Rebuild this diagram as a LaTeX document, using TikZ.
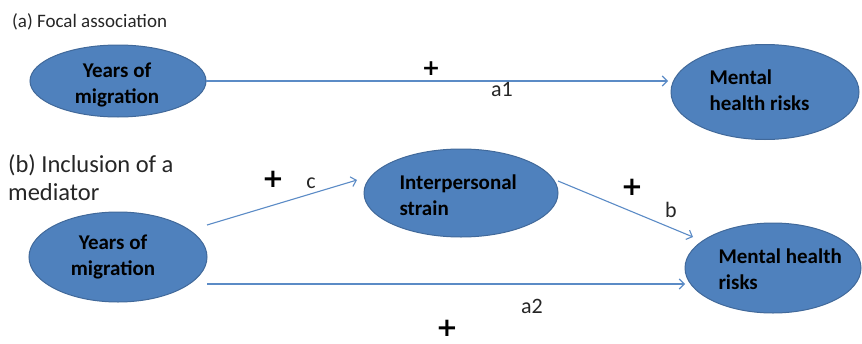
\documentclass[tikz,border=0pt]{standalone}
\usepackage{fontspec}
\setmainfont{Carlito}
\newfontfamily\plusfont{DejaVu Sans}
\usetikzlibrary{arrows.meta,shapes.geometric}
\definecolor{ellfill}{HTML}{4F81BD}
\definecolor{elldraw}{HTML}{41699A}
\definecolor{arrcol}{HTML}{5B8BC6}
\begin{document}
\begin{tikzpicture}[x=1pt,y=-1pt,
  ell/.style={ellipse,fill=ellfill,draw=elldraw,line width=1pt,inner sep=0pt},
  etext/.style={font=\fontsize{21}{26}\selectfont\bfseries,text=black,align=left,anchor=west},
  conn/.style={draw=arrcol,line width=1.1pt,-{Straight Barb[length=5pt,width=10pt]}},
  lbl/.style={font=\fontsize{22}{24}\selectfont,text=black!85},
  plus/.style={font=\plusfont\bfseries\fontsize{22}{22}\selectfont,text=black,inner sep=0pt},
  bigplus/.style={plus,font=\plusfont\bfseries\fontsize{26}{26}\selectfont},
  ttla/.style={font=\fontsize{19}{22}\selectfont,text=black!85,anchor=base west,inner sep=0pt},
  ttlb/.style={font=\fontsize{24.5}{28}\selectfont,text=black!85,anchor=base west,inner sep=0pt}
]
\useasboundingbox (0,0) rectangle (862,343);
% part (a)
\node[ttla] (ta) at (12,27) {(a) Focal association};
\node[ell,minimum width=176pt,minimum height=72pt] (y1) at (118,81) {};
\node[etext,align=center,anchor=center] (y1t) at (117,85) {Years of\\migration};
\node[ell,minimum width=188pt,minimum height=95pt] (m1) at (765,92) {};
\node[etext] (m1t) at (706,90) {Mental\\health risks};
\coordinate (a1s) at (206,81);
\coordinate (a1e) at (668,81);
\draw[conn] (a1s) -- (a1e);
\node[plus] (p1) at (431,69) {+};
\node[lbl] (la1) at (502,89) {a1};
% part (b)
\node[ttlb] (tb1) at (8,172) {(b) Inclusion of a};
\node[ttlb] (tb2) at (8,200) {mediator};
\node[ell,minimum width=194pt,minimum height=88pt] (is) at (461,193) {};
\node[etext] (ist) at (396,195) {Interpersonal\\strain};
\node[ell,minimum width=178pt,minimum height=90pt] (y2) at (118,257) {};
\node[etext,align=center,anchor=center] (y2t) at (113,257) {Years of\\migration};
\node[ell,minimum width=176pt,minimum height=90pt] (m2) at (773,268) {};
\node[etext] (m2t) at (715,269) {Mental health\\risks};
\coordinate (cs) at (207,225);
\coordinate (ce) at (357,180);
\draw[conn] (cs) -- (ce);
\coordinate (bs) at (558,181);
\coordinate (be) at (693,237);
\draw[conn] (bs) -- (be);
\coordinate (a2s) at (207,284);
\coordinate (a2e) at (685,284);
\draw[conn] (a2s) -- (a2e);
\node[bigplus] (p2) at (273,179) {+};
\node[lbl] (lc) at (311,183) {c};
\node[bigplus] (p3) at (632,187) {+};
\node[lbl] (lb) at (671,210) {b};
\node[lbl] (la2) at (532,306) {a2};
\node[bigplus] (p4) at (447,328) {+};
\end{tikzpicture}
\end{document}
